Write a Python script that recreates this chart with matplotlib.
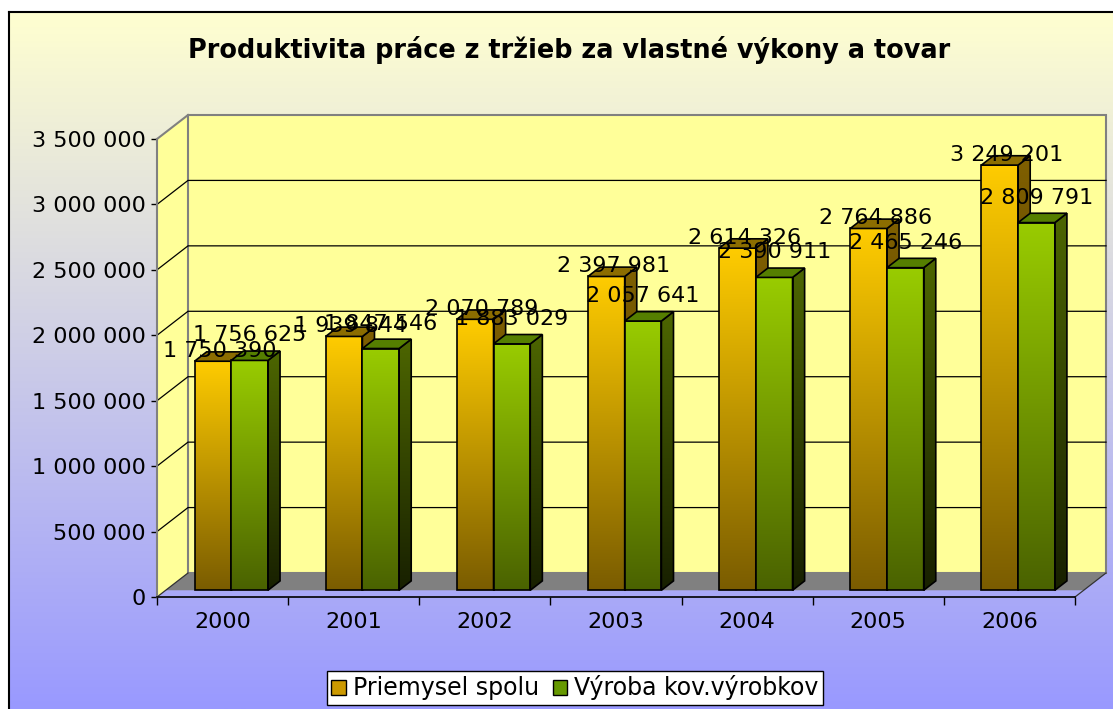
import matplotlib
matplotlib.use('Agg')
import matplotlib.pyplot as plt
import numpy as np
from matplotlib.patches import Polygon, Rectangle
from matplotlib.colors import LinearSegmentedColormap

# data
years = ['2000', '2001', '2002', '2003', '2004', '2005', '2006']
priemysel = [1750390, 1939844, 2070789, 2397981, 2614326, 2764886, 3249201]
vyroba = [1756625, 1847546, 1883029, 2057641, 2390911, 2465246, 2809791]
series_names = ['Priemysel spolu', 'Výroba kov.výrobkov']
title = 'Produktivita práce z tržieb za vlastné výkony a tovar'
y_ticks = [0, 500000, 1000000, 1500000, 2000000, 2500000, 3000000, 3500000]

W, H = 1113, 709
fig = plt.figure(figsize=(W / 100, H / 100), dpi=100)


def fmt(v):
    return f'{v:,}'.replace(',', ' ')


def vgrad(top, bottom):
    return LinearSegmentedColormap.from_list('g', [top, bottom])


grad = np.linspace(0, 1, 256).reshape(-1, 1)

# background with gradient and black frame
bg = fig.add_axes([9 / W, 0, 1 - 9 / W, 697 / H], zorder=-10)
bg.imshow(grad, cmap=vgrad('#ffffd0', '#9999ff'), aspect='auto', extent=[0, 1, 0, 1])
bg.set_xlim(0, 1)
bg.set_ylim(0, 1)
bg.set_xticks([])
bg.set_yticks([])
for s in ['right', 'bottom']:
    bg.spines[s].set_visible(False)
for s in ['top', 'left']:
    bg.spines[s].set_linewidth(1.5)

fig.text(569.5 / W, 1 - 50 / H, title, ha='center', va='center',
         fontsize=18.4, fontweight='bold')

# main axes = front plane of the 3d box
ax = fig.add_axes([157 / W, 112 / H, 918 / W, 458 / H])
ax.patch.set_visible(False)
n = len(years)
ymax = y_ticks[-1]
DX = n * 31 / 918            # depth shift in x units
DY = ymax * 24 / 458         # depth shift in y units
F0, F1 = 0.28, 0.67          # bars front / back depth
BW = 0.28                    # bar width

# walls
ax.add_patch(Polygon([(0, 0), (DX, DY), (DX, ymax + DY), (0, ymax)],
                     fc='#ffff99', ec='none', clip_on=False, zorder=1))
ax.add_patch(Rectangle((DX, DY), n, ymax, fc='#ffff99', ec='#808080', lw=1.5,
                       clip_on=False, zorder=1))
ax.plot([0, DX], [ymax, ymax + DY], color='#808080', lw=1.5, clip_on=False, zorder=2)
for v in y_ticks[1:-1]:
    ax.plot([0, DX, n + DX], [v, v + DY, v + DY], color='black', lw=0.9,
            clip_on=False, zorder=2)

# floor
ax.add_patch(Polygon([(F0 * DX, F0 * DY), (n + F0 * DX, F0 * DY), (n + DX, DY), (DX, DY)],
                     fc='#808080', ec='none', clip_on=False, zorder=2))
ax.plot([0, DX], [0, DY], color='#333333', lw=0.9, clip_on=False, zorder=2)
ax.plot([n, n + DX], [0, DY], color='#333333', lw=0.9, clip_on=False, zorder=2)


def draw_bar(x0, h, front, side, top, z):
    fx, fy = x0 + F0 * DX, F0 * DY
    ddx, ddy = (F1 - F0) * DX, (F1 - F0) * DY
    ax.imshow(grad, cmap=vgrad(*front), aspect='auto',
              extent=[fx, fx + BW, fy, fy + h], zorder=z)
    ax.add_patch(Rectangle((fx, fy), BW, h, fill=False, ec='black', lw=1.2, zorder=z + 0.1))
    side_pts = [(fx + BW, fy), (fx + BW + ddx, fy + ddy),
                (fx + BW + ddx, fy + h + ddy), (fx + BW, fy + h)]
    sp = Polygon(side_pts, fill=False, ec='black', lw=1.2, zorder=z + 0.1)
    ax.add_patch(sp)
    im = ax.imshow(grad, cmap=vgrad(*side), aspect='auto',
                   extent=[fx + BW, fx + BW + ddx, fy, fy + h + ddy], zorder=z)
    im.set_clip_path(sp)
    top_pts = [(fx, fy + h), (fx + BW, fy + h), (fx + BW + ddx, fy + h + ddy),
               (fx + ddx, fy + h + ddy)]
    ax.add_patch(Polygon(top_pts, fc=top, ec='black', lw=1.2, zorder=z + 0.1))
    return fx + BW / 2, fy + h


yellow = (('#ffcc00', '#7a5c00'), ('#806000', '#3d2e00'), '#8c6d00')
green = (('#99cc00', '#4a6200'), ('#4d6600', '#182000'), '#557f00')

labels = []
for i in range(n):
    c = i + 0.5
    xa, ya = draw_bar(c - BW, priemysel[i], *yellow, z=3 + i)
    xb, yb = draw_bar(c, vyroba[i], *green, z=3.5 + i)
    labels.append((xa, ya, priemysel[i], (5, 7.2)))
    labels.append((xb, yb, vyroba[i], (0, 18)))

for x, y, v, off in labels:
    ax.annotate(fmt(v), xy=(x, y), xytext=off, textcoords='offset points',
                ha='center', va='center', fontsize=16, zorder=20)

ax.set_xlim(0, n)
ax.set_ylim(0, ymax)

# axes styling
for s in ['top', 'right']:
    ax.spines[s].set_visible(False)
ax.spines['left'].set_color('#808080')
ax.spines['left'].set_linewidth(1.5)
ax.spines['bottom'].set_linewidth(1.2)
ax.spines['left'].set_zorder(30)
ax.spines['bottom'].set_zorder(30)
ax.set_yticks(y_ticks)
ax.set_yticklabels([fmt(v) for v in y_ticks])
ax.tick_params(axis='y', length=4.5, width=1, pad=3.5, labelsize=16)
ax.set_xticks(range(n + 1))
ax.set_xticklabels([])
ax.set_xticks([i + 0.5 for i in range(n)], minor=True)
ax.set_xticklabels(years, minor=True)
ax.tick_params(axis='x', which='major', length=6, width=1)
ax.tick_params(axis='x', which='minor', length=0, pad=11, labelsize=16)

# legend
handles = [Rectangle((0, 0), 1, 1, fc='#cc9900', ec='black', lw=1),
           Rectangle((0, 0), 1, 1, fc='#669900', ec='black', lw=1)]
fig.legend(handles, series_names, loc='center', bbox_to_anchor=(575 / W, 1 - 688 / H),
           ncol=2, fontsize=17, frameon=True, fancybox=False, edgecolor='black',
           framealpha=1, borderpad=0.2, handlelength=0.6, handleheight=0.6,
           handletextpad=0.3, columnspacing=0.6, borderaxespad=0)

fig.savefig('out.png', dpi=100)
